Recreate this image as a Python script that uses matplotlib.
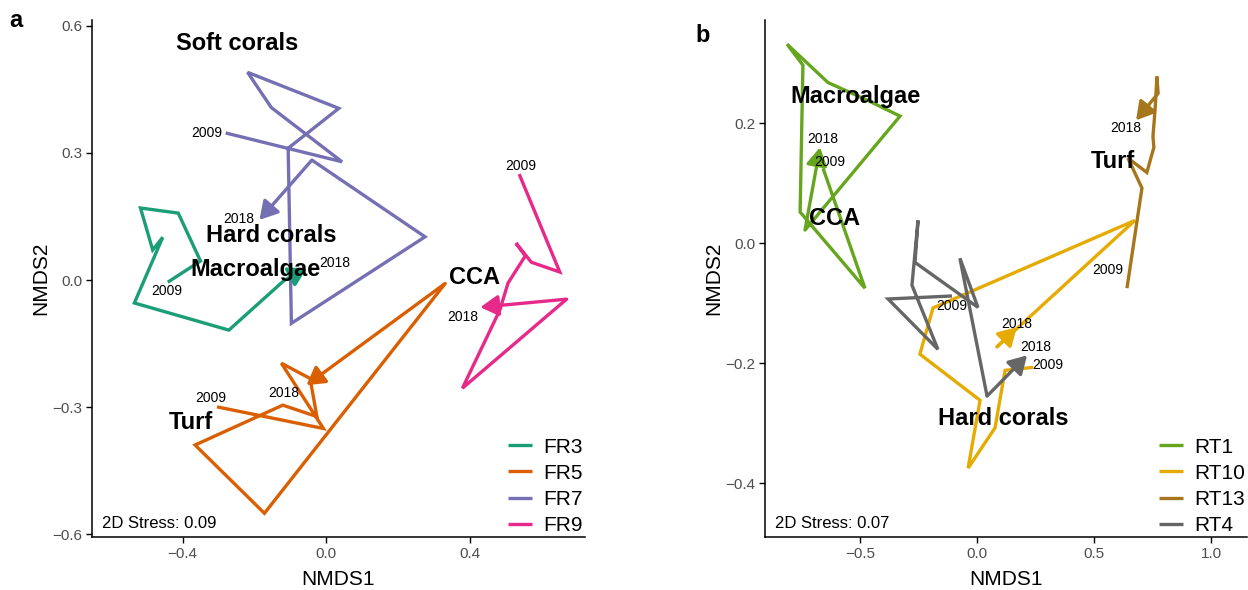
import matplotlib.pyplot as plt

plt.rcParams['font.family'] = ['Liberation Sans', 'DejaVu Sans']

# ---- panel a: fore-reef sites (NMDS1, NMDS2 per year 2009..2018)
sites_a = ['FR3', 'FR5', 'FR7', 'FR9']
colors_a = ['#1B9E77', '#D95F02', '#7570B3', '#E7298A']
fr3_x = [-0.441, -0.350, -0.412, -0.517, -0.483, -0.455, -0.534, -0.271, -0.116, -0.054]
fr3_y = [-0.005, 0.045, 0.158, 0.170, 0.071, 0.101, -0.054, -0.118, 0.000, 0.028]
fr5_x = [-0.304, -0.008, -0.125, -0.045, -0.026, -0.121, -0.365, -0.172, 0.331, -0.055]
fr5_y = [-0.299, -0.350, -0.196, -0.232, -0.322, -0.295, -0.389, -0.550, -0.008, -0.248]
fr7_x = [-0.280, 0.044, -0.153, -0.219, 0.035, -0.106, -0.097, 0.275, -0.040, -0.186]
fr7_y = [0.347, 0.279, 0.407, 0.490, 0.405, 0.311, -0.102, 0.102, 0.283, 0.142]
fr9_x = [0.537, 0.650, 0.571, 0.528, 0.554, 0.506, 0.483, 0.379, 0.669, 0.429]
fr9_y = [0.250, 0.019, 0.042, 0.087, 0.057, -0.007, -0.071, -0.255, -0.045, -0.064]

# year tags (x, y) for 2009 and 2018
years_a = {
    'FR3': [(-0.443, -0.026), (0.025, 0.040)],
    'FR5': [(-0.322, -0.278), (-0.119, -0.267)],
    'FR7': [(-0.333, 0.347), (-0.243, 0.144)],
    'FR9': [(0.542, 0.269), (0.381, -0.087)],
}
groups_a = ['Soft corals', 'Hard corals', 'Macroalgae', 'CCA', 'Turf']
groups_a_xy = [(-0.249, 0.557), (-0.153, 0.104), (-0.198, 0.024), (0.412, 0.005), (-0.376, -0.337)]

# ---- panel b: reef-top sites
sites_b = ['RT1', 'RT10', 'RT13', 'RT4']
colors_b = ['#66A61E', '#E6AB02', '#A6761D', '#666666']
rt1_x = [-0.658, -0.479, -0.756, -0.744, -0.812, -0.637, -0.466, -0.329, -0.735, -0.671]
rt1_y = [0.125, -0.075, 0.052, 0.297, 0.332, 0.268, 0.238, 0.212, 0.022, 0.160]
rt10_x = [0.241, 0.120, 0.077, -0.038, 0.013, -0.244, -0.188, 0.675, 0.085, 0.170]
rt10_y = [-0.207, -0.212, -0.308, -0.375, -0.262, -0.185, -0.108, 0.038, -0.173, -0.140]
rt13_x = [0.641, 0.705, 0.645, 0.726, 0.756, 0.752, 0.761, 0.769, 0.774, 0.680]
rt13_y = [-0.075, 0.092, 0.142, 0.118, 0.160, 0.178, 0.222, 0.278, 0.250, 0.205]
rt4_x = [-0.107, -0.380, -0.167, -0.278, -0.252, -0.265, 0.004, -0.073, 0.043, 0.214]
rt4_y = [-0.088, -0.093, -0.177, -0.070, 0.038, -0.032, -0.107, -0.025, -0.255, -0.187]

years_b = {
    'RT1': [(-0.628, 0.135), (-0.658, 0.173)],
    'RT10': [(0.303, -0.203), (0.171, -0.135)],
    'RT13': [(0.560, -0.045), (0.637, 0.192)],
    'RT4': [(-0.107, -0.105), (0.252, -0.173)],
}
groups_b = ['Macroalgae', 'CCA', 'Turf', 'Hard corals']
groups_b_xy = [(-0.521, 0.245), (-0.607, 0.042), (0.581, 0.137), (0.111, -0.292)]


def draw_trajectory(ax, xs, ys, color, label):
    ax.plot(xs[:-1], ys[:-1], color=color, lw=2.4, solid_joinstyle='miter',
            solid_capstyle='butt', label=label)
    ax.annotate('', xy=(xs[-1], ys[-1]), xytext=(xs[-2], ys[-2]),
                arrowprops=dict(arrowstyle='-|>,head_length=0.6,head_width=0.35',
                                color=color, lw=2.4, shrinkA=0, shrinkB=0,
                                mutation_scale=18))


def style_axes(ax, stress):
    for side in ['top', 'right']:
        ax.spines[side].set_visible(False)
    for side in ['left', 'bottom']:
        ax.spines[side].set_linewidth(1.1)
    ax.tick_params(direction='out', length=4, width=1.0, labelsize=11,
                   labelcolor='#4D4D4D', pad=3)
    ax.set_xlabel('NMDS1', fontsize=15, labelpad=7)
    ax.set_ylabel('NMDS2', fontsize=15, labelpad=1.5)
    ax.text(0.02, 0.012, f'2D Stress: {stress}', transform=ax.transAxes,
            fontsize=12, ha='left', va='bottom')
    ax.legend(loc='lower right', bbox_to_anchor=(1.0, 0.0), frameon=False,
              fontsize=15, handlelength=1.15, handletextpad=0.55,
              labelspacing=0.34, borderaxespad=0.0, borderpad=0.1)


fig = plt.figure(figsize=(12.48, 5.9), dpi=100)
ax_a = fig.add_axes([0.0737, 0.0898, 0.395, 0.876])
ax_b = fig.add_axes([0.613, 0.0898, 0.3862, 0.876])

# panel a
traj_a = [(fr3_x, fr3_y), (fr5_x, fr5_y), (fr7_x, fr7_y), (fr9_x, fr9_y)]
for site, col, (xs, ys) in zip(sites_a, colors_a, traj_a):
    draw_trajectory(ax_a, xs, ys, col, site)
    for yr, (tx, ty) in zip(['2009', '2018'], years_a[site]):
        ax_a.text(tx, ty, yr, fontsize=10, ha='center', va='center')
for g, (gx, gy) in zip(groups_a, groups_a_xy):
    ax_a.text(gx, gy, g, fontsize=17, fontweight='bold', ha='center', va='center')
ax_a.set_xlim(-0.652, 0.72)
ax_a.set_ylim(-0.606, 0.613)
ax_a.set_xticks([-0.4, 0.0, 0.4])
ax_a.set_yticks([-0.6, -0.3, 0.0, 0.3, 0.6])
ax_a.set_xticklabels(['\u22120.4', '0.0', '0.4'])
ax_a.set_yticklabels(['\u22120.6', '\u22120.3', '0.0', '0.3', '0.6'])
style_axes(ax_a, '0.09')

# panel b
traj_b = [(rt1_x, rt1_y), (rt10_x, rt10_y), (rt13_x, rt13_y), (rt4_x, rt4_y)]
for site, col, (xs, ys) in zip(sites_b, colors_b, traj_b):
    draw_trajectory(ax_b, xs, ys, col, site)
    for yr, (tx, ty) in zip(['2009', '2018'], years_b[site]):
        ax_b.text(tx, ty, yr, fontsize=10, ha='center', va='center')
for g, (gx, gy) in zip(groups_b, groups_b_xy):
    ax_b.text(gx, gy, g, fontsize=17, fontweight='bold', ha='center', va='center')
ax_b.set_xlim(-0.906, 1.154)
ax_b.set_ylim(-0.49, 0.372)
ax_b.set_xticks([-0.5, 0.0, 0.5, 1.0])
ax_b.set_yticks([-0.4, -0.2, 0.0, 0.2])
ax_b.set_xticklabels(['\u22120.5', '0.0', '0.5', '1.0'])
ax_b.set_yticklabels(['\u22120.4', '\u22120.2', '0.0', '0.2'])
style_axes(ax_b, '0.07')

fig.text(0.013, 0.965, 'a', fontsize=17, fontweight='bold', ha='center', va='center')
fig.text(0.563, 0.94, 'b', fontsize=17, fontweight='bold', ha='center', va='center')

fig.savefig('out.png', dpi=100)
